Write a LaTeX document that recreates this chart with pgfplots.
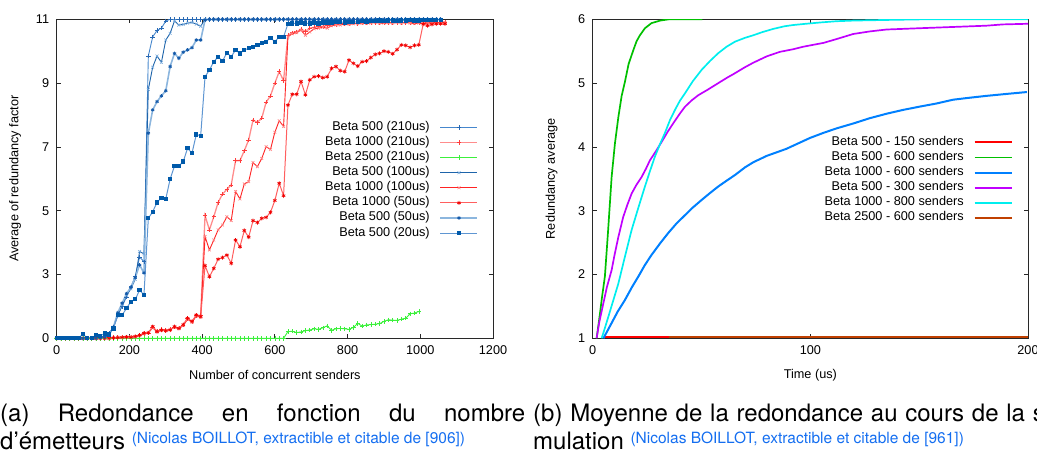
\documentclass[border=0pt]{standalone}
\usepackage{fontspec}
\setmainfont{Liberation Sans}
\newfontfamily\capfont{TeX Gyre Heros}
\usepackage{pgfplots}
\pgfplotsset{compat=1.18}
\newcommand\fs{\fontsize{12.7bp}{15bp}\selectfont}
\definecolor{bA}{RGB}{70,135,205}
\definecolor{bAm}{RGB}{40,105,180}
\definecolor{rA}{RGB}{255,140,140}
\definecolor{rAm}{RGB}{255,60,60}
\definecolor{gA}{RGB}{60,240,60}
\definecolor{bB}{RGB}{30,100,170}
\definecolor{bBm}{RGB}{120,170,220}
\definecolor{rB}{RGB}{255,35,35}
\definecolor{rBm}{RGB}{255,130,130}
\definecolor{rC}{RGB}{255,95,95}
\definecolor{rCm}{RGB}{240,0,0}
\definecolor{bC}{RGB}{140,182,222}
\definecolor{bCm}{RGB}{20,90,170}
\definecolor{bD}{RGB}{95,150,210}
\definecolor{bDm}{RGB}{0,90,170}
\definecolor{gpred}{RGB}{255,0,0}
\definecolor{gpgreen}{RGB}{0,192,0}
\definecolor{gpblue}{RGB}{0,128,255}
\definecolor{gppurple}{RGB}{192,0,255}
\definecolor{gpcyan}{RGB}{0,238,238}
\definecolor{gpbrown}{RGB}{192,64,0}
\definecolor{capblue}{RGB}{20,110,240}
\definecolor{axgray}{RGB}{40,40,40}
\pgfplotsset{
  gpstyle/.style={
    scale only axis, height=319bp,
    tick align=inside, major tick length=4bp,
    axis line style={line width=0.8bp, axgray},
    every tick/.style={line width=0.8bp, axgray},
    tick label style={font=\fs},
    label style={font=\fs},
    scaled ticks=false,
    /pgf/number format/assume math mode=true,
    /pgf/number format/set thousands separator={},
    legend cell align=right,
    legend plot pos=right,
    legend style={draw=none, fill=none, inner sep=0pt, outer sep=0pt, font=\fs,
      row sep=3.1bp, /tikz/column sep=10bp,
      nodes={inner sep=0pt, text height=9bp, text depth=3bp}},
    legend image code/.code={\draw[mark repeat=2,mark phase=2,##1] plot coordinates {(0bp,0bp) (18.5bp,0bp) (37bp,0bp)};},
    yticklabel style={xshift=-4bp},
    xticklabel style={yshift=-4bp},
  }
}
\begin{document}
\begin{tikzpicture}
\useasboundingbox (0bp,0bp) rectangle (1037bp,-453bp);
% ---------------- left plot ----------------
\begin{axis}[gpstyle,
  at={(56.7bp,-338.3bp)}, anchor=south west, width=436.3bp,
  xmin=0, xmax=1200, ymin=1, ymax=11,
  xtick={0,200,400,600,800,1000,1200},
  ytick={1,3,5,7,9,11}, yticklabels={0,3,5,7,9,11},
  xlabel={Number of concurrent senders},
  ylabel={Average of redundancy factor},
  xlabel style={at={(axis description cs:0.5,-0.115)}, anchor=center},
  ylabel style={at={(axis description cs:-0.0956,0.5)}, anchor=center, rotate=0},
  legend style={at={(0.9663,0.680)}, anchor=north east},
]
% Beta 500 (210us)
\addplot[color=bA, line width=0.9bp, mark=+, mark size=2.2bp, mark options={color=bAm, line width=0.6bp}] coordinates {
(0,1)(12,1)(24,1)(36,1)(48,1)(60,1)(72,1)(84,1)(96,1)(108,1)(120,1.02)(132,1.05)(144,1.15)(156,1.35)(168,1.75)(180,2.0)(192,2.3)(204,2.6)(216,2.95)(228,3.55)(240,3.4)(252,9.85)(264,10.45)(276,10.65)(288,10.72)(300,10.95)(312,11)(324,11)(336,11)(348,11)(360,11)(372,11)(384,11)(396,11)(408,11)
(420,11)(432,11)(444,11)(456,11)(468,11)(480,11)(492,11)(504,11)(516,11)(528,11)(540,11)(552,11)(564,11)(576,11)(588,11)(600,11)(612,11)(624,11)(636,11)(648,11)(660,11)(672,11)(684,11)(696,11)(708,11)(720,11)(732,11)(744,11)(756,11)(768,11)(780,11)(792,11)(804,11)(816,11)(828,11)(840,11)(852,11)(864,11)(876,11)(888,11)(900,11)(912,11)(924,11)(936,11)(948,11)(960,11)(972,11)(984,11)(996,11)(1008,11)(1020,11)(1032,11)(1044,11)(1056,11)
};
\addlegendentry{Beta 500 (210us)}
% Beta 1000 (210us)
\addplot[color=rA, line width=1.3bp, mark=+, mark size=2.2bp, mark options={color=rAm, line width=0.6bp}] coordinates {
(0,1)(12,1)(24,1)(36,1)(48,1)(60,1)(72,1)(84,1)(96,1)(108,1)(120,1)(132,1)(144,1.02)(156,1.02)(168,1.02)(180,1.03)(192,1.05)(204,1.04)(216,1.05)(228,1.1)(240,1.15)(252,1.16)(264,1.36)(276,1.22)(288,1.27)(300,1.25)(312,1.27)(324,1.36)(336,1.32)(348,1.42)(360,1.62)(372,1.52)(384,1.72)(396,1.72)
(408,4.85)(420,4.4)(432,4.81)(444,5.26)(456,5.52)(468,5.67)(480,5.81)(492,6.57)(504,6.57)(516,6.88)(528,7.22)(540,7.84)(552,7.77)(564,7.9)(576,8.4)(588,8.6)(600,9.0)(612,9.36)(624,9.08)
(636,10.5)(648,10.58)(660,10.61)(672,10.69)(684,10.62)(696,10.72)(708,10.75)(720,10.77)(732,10.78)(744,10.8)(756,10.82)(768,10.84)(780,10.85)(792,10.86)(804,10.87)(816,10.88)(828,10.87)(840,10.88)(852,10.9)(864,10.9)(876,10.9)(888,10.9)(900,10.89)(912,10.9)(924,10.9)(936,10.9)(948,10.9)(960,10.9)(972,10.9)(984,10.9)(996,10.9)(1008,10.88)(1020,10.9)(1032,10.9)(1044,10.9)(1056,10.9)(1068,10.92)
};
\addlegendentry{Beta 1000 (210us)}
% Beta 2500 (210us)
\addplot[color=gA, line width=0.9bp, mark=+, mark size=2.2bp, mark options={line width=0.6bp}] coordinates {
(0,1)(12,1)(24,1)(36,1)(48,1)(60,1)(72,1)(84,1)(96,1)(108,1)(120,1)(132,1)(144,1)(156,1)(168,1)(180,1)(192,1)(204,1)(216,1)(228,1)(240,1)(252,1)(264,1)(276,1)(288,1)(300,1)(312,1)(324,1)(336,1)(348,1)(360,1)(372,1)(384,1)(396,1)(408,1)(420,1)(432,1)(444,1)(456,1)(468,1)(480,1)(492,1)(504,1)(516,1)(528,1)(540,1)(552,1)(564,1)(576,1)(588,1)(600,1)(612,1)(624,1)
(636,1.21)(648,1.22)(660,1.18)(672,1.2)(684,1.24)(696,1.26)(708,1.3)(720,1.28)(732,1.33)(744,1.39)(756,1.25)(768,1.3)(780,1.31)(792,1.3)(804,1.28)(816,1.34)(828,1.47)(840,1.38)(852,1.42)(864,1.43)(876,1.44)(888,1.46)(900,1.53)(912,1.58)(924,1.57)(936,1.56)(948,1.6)(960,1.63)(972,1.77)(984,1.79)(996,1.84)
};
\addlegendentry{Beta 2500 (210us)}
% Beta 500 (100us)
\addplot[color=bB, line width=0.9bp, mark=x, mark size=2bp, mark options={color=bBm, line width=0.6bp}] coordinates {
(0,1)(12,1)(24,1)(36,1)(48,1)(60,1)(72,1)(84,1)(96,1)(108,1)(120,1.02)(132,1.05)(144,1.15)(156,1.35)(168,1.7)(180,2.05)(192,2.35)(204,2.55)(216,2.85)(228,3.72)(240,3.65)(252,8.8)(264,9.5)(276,9.85)(288,9.65)(300,10.35)(312,10.56)(324,10.95)(336,10.82)(348,10.84)(360,10.88)(372,10.9)(384,10.85)(396,10.78)(408,11)
(420,11)(432,11)(444,11)(456,11)(468,11)(480,11)(492,11)(504,11)(516,11)(528,11)(540,11)(552,11)(564,11)(576,11)(588,11)(600,11)(612,11)(624,11)(636,11)(648,11)(660,11)(672,11)(684,11)(696,11)(708,11)(720,11)(732,11)(744,11)(756,11)(768,11)(780,11)(792,11)(804,11)(816,11)(828,11)(840,11)(852,11)(864,11)(876,11)(888,11)(900,11)(912,11)(924,11)(936,11)(948,11)(960,11)(972,11)(984,11)(996,11)(1008,11)(1020,11)(1032,11)(1044,11)(1056,11)
};
\addlegendentry{Beta 500 (100us)}
% Beta 1000 (100us)
\addplot[color=rB, line width=0.9bp, mark=x, mark size=2bp, mark options={color=rBm, line width=0.6bp}] coordinates {
(0,1)(12,1)(24,1)(36,1)(48,1)(60,1)(72,1)(84,1)(96,1)(108,1)(120,1)(132,1)(144,1.01)(156,1.02)(168,1.03)(180,1.02)(192,1.04)(204,1.05)(216,1.04)(228,1.08)(240,1.14)(252,1.18)(264,1.33)(276,1.2)(288,1.25)(300,1.24)(312,1.28)(324,1.34)(336,1.3)(348,1.4)(360,1.6)(372,1.5)(384,1.7)(396,1.66)
(408,4.19)(420,3.77)(432,4.08)(444,4.4)(456,4.55)(468,4.81)(480,4.69)(492,5.6)(504,5.37)(516,5.84)(528,5.91)(540,6.51)(552,6.38)(564,6.64)(576,7.01)(588,6.92)(600,7.46)(612,7.82)(624,7.64)
(636,10.45)(648,10.55)(660,10.58)(672,10.66)(684,10.5)(696,10.6)(708,10.7)(720,10.72)(732,10.75)(744,10.72)(756,10.8)(768,10.82)(780,10.82)(792,10.85)(804,10.84)(816,10.86)(828,10.86)(840,10.87)(852,10.87)(864,10.88)(876,10.9)(888,10.88)(900,10.88)(912,10.89)(924,10.88)(936,10.9)(948,10.88)(960,10.9)(972,10.88)(984,10.87)(996,10.88)(1008,10.86)(1020,10.88)(1032,10.88)(1044,10.9)(1056,10.88)(1068,10.9)
};
\addlegendentry{Beta 1000 (100us)}
% Beta 1000 (50us)
\addplot[color=rC, line width=1bp, mark=asterisk, mark size=2bp, mark options={color=rCm, line width=0.7bp}] coordinates {
(0,1)(12,1)(24,1)(36,1)(48,1)(60,1)(72,1)(84,1)(96,1)(108,1)(120,1)(132,1)(144,1)(156,1.01)(168,1.02)(180,1.03)(192,1.04)(204,1.03)(216,1.06)(228,1.1)(240,1.16)(252,1.17)(264,1.37)(276,1.21)(288,1.26)(300,1.24)(312,1.26)(324,1.37)(336,1.31)(348,1.43)(360,1.63)(372,1.53)(384,1.73)(396,1.68)
(408,3.28)(420,2.93)(432,3.19)(444,3.48)(456,3.53)(468,3.61)(480,3.35)(492,4.08)(504,3.87)(516,4.38)(528,4.17)(540,4.69)(552,4.63)(564,4.76)(576,4.79)(588,4.95)(600,5.32)(612,5.86)(624,5.47)
(636,8.31)(648,8.65)(660,8.65)(672,9.05)(684,8.63)(696,9.1)(708,9.2)(720,9.22)(732,9.17)(744,9.2)(756,9.46)(768,9.52)(780,9.39)(792,9.36)(804,9.72)(816,9.62)(828,9.53)(840,9.67)(852,9.69)(864,9.8)(876,9.9)(888,9.93)(900,10.0)(912,9.98)(924,9.92)(936,10.05)(948,10.2)(960,10.18)(972,10.12)(984,10.18)(996,10.2)
(1008,10.85)(1020,10.8)(1032,10.84)(1044,10.86)(1056,10.86)(1068,10.86)
};
\addlegendentry{Beta 1000 (50us)}
% Beta 500 (50us)
\addplot[color=bC, line width=1.6bp, mark=asterisk, mark size=1.8bp, mark options={color=bCm, line width=0.8bp}] coordinates {
(0,1)(12,1)(24,1)(36,1)(48,1)(60,1)(72,1)(84,1)(96,1)(108,1)(120,1.02)(132,1.04)(144,1.12)(156,1.35)(168,1.8)(180,2.1)(192,2.4)(204,2.6)(216,2.9)(228,3.3)(240,3.05)(252,7.43)(264,8.16)(276,8.42)(288,8.6)(300,8.76)(312,9.52)(324,9.93)(336,9.78)(348,9.97)(360,10.04)(372,10.11)(384,10.35)(396,10.35)(408,10.98)
(420,11)(432,11)(444,11)(456,11)(468,11)(480,11)(492,11)(504,11)(516,11)(528,11)(540,11)(552,11)(564,11)(576,11)(588,11)(600,11)(612,11)(624,11)(636,11)(648,11)(660,11)(672,11)(684,11)(696,11)(708,11)(720,11)(732,11)(744,11)(756,11)(768,11)(780,11)(792,11)(804,11)(816,11)(828,11)(840,11)(852,11)(864,11)(876,11)(888,11)(900,11)(912,11)(924,11)(936,11)(948,11)(960,11)(972,11)(984,11)(996,11)(1008,11)(1020,11)(1032,11)(1044,11)(1056,11)
};
\addlegendentry{Beta 500 (50us)}
% Beta 500 (20us)
\addplot[color=bD, line width=1bp, mark=square*, mark size=1.6bp, mark options={fill=bDm, draw=bDm}] coordinates {
(0,1)(12,1)(24,1)(36,1)(48,1)(60,1)(72,1.13)(84,1)(96,1)(108,1.1)(120,1.08)(132,1.15)(144,1.12)(156,1.31)(168,1.73)(180,1.73)(192,1.94)(204,2.15)(216,2.22)(228,2.51)(240,2.36)
(252,4.76)(264,4.97)(276,5.26)(288,5.41)(300,5.37)(312,5.99)(324,6.4)(336,6.4)(348,6.54)(360,6.96)(372,6.8)(384,7.39)(396,7.35)
(408,9.2)(420,9.41)(432,9.67)(444,9.83)(456,9.69)(468,9.95)(480,9.83)(492,10.04)(504,9.93)(516,10.04)(528,10.09)(540,10.14)(552,10.2)(564,10.25)(576,10.3)(588,10.42)(600,10.3)(612,10.45)(624,10.45)
(636,10.86)(648,10.87)(660,10.87)(672,10.9)(684,10.87)(696,10.87)(708,10.9)(720,10.87)(732,10.9)(744,10.9)(756,10.9)(768,10.92)(780,10.92)(792,10.9)(804,10.92)(816,10.92)(828,10.92)(840,10.95)(852,10.93)(864,10.95)(876,10.95)(888,10.96)(900,10.95)(912,10.96)(924,10.96)(936,10.95)(948,10.96)(960,10.96)(972,10.97)(984,10.96)(996,10.96)(1008,10.97)(1020,10.97)(1032,10.97)(1044,10.98)(1056,10.98)
};
\addlegendentry{Beta 500 (20us)}
\end{axis}
% ---------------- right plot ----------------
\begin{axis}[gpstyle,
  at={(592.7bp,-338.3bp)}, anchor=south west, width=435.3bp,
  xmin=0, xmax=200, ymin=1, ymax=6,
  xtick={0,100,200}, ytick={1,2,3,4,5,6},
  xlabel={Time (us)},
  ylabel={Redundancy average},
  xlabel style={at={(axis description cs:0.5,-0.115)}, anchor=center},
  ylabel style={at={(axis description cs:-0.0942,0.5)}, anchor=center, rotate=0},
  legend style={at={(0.9649,0.633)}, anchor=north east},
]
\addplot[color=gpred, line width=2bp] coordinates {(5.6,1.025)(35,1.025)};
\addlegendentry{Beta 500 - 150 senders}
\addplot[color=gpgreen, line width=1.7bp] coordinates {
(1.8,1)(3,1.3)(4.3,1.65)(5.6,1.97)(7,2.65)(8.7,3.53)(10.2,4.05)(11.8,4.47)(13.3,4.8)(14.8,5.02)(16.5,5.3)(18.7,5.52)(20.2,5.66)(21.7,5.75)(24,5.86)(27,5.94)(31,5.98)(35,6)(50.4,6)};
\addlegendentry{Beta 500 - 600 senders}
\addplot[color=gpblue, line width=2bp] coordinates {
(4.9,1)(6.5,1.1)(8.7,1.24)(11.5,1.42)(14.8,1.6)(18,1.8)(21,1.97)(24,2.15)(27.1,2.31)(31,2.49)(34.7,2.65)(38.5,2.8)(42.4,2.93)(46,3.05)(50.1,3.17)(54,3.28)(57.7,3.38)(61.5,3.47)(65.4,3.56)(70,3.68)(73.8,3.76)(80,3.86)(89,3.97)(99.8,4.14)(106,4.22)(112,4.29)(120,4.37)(127.3,4.45)(135,4.52)(142.6,4.58)(150,4.63)(157.9,4.68)(165.6,4.74)(173,4.77)(180.9,4.8)(190,4.83)(199.5,4.86)};
\addlegendentry{Beta 1000 - 600 senders}
\addplot[color=gppurple, line width=1.7bp] coordinates {
(1.8,1)(3,1.25)(4.9,1.55)(6.5,1.8)(8.7,2.07)(10,2.3)(11.8,2.59)(14,2.9)(16,3.1)(17.9,3.27)(20,3.4)(22.5,3.53)(24.5,3.66)(26.3,3.79)(29,3.93)(31.7,4.08)(34.5,4.24)(37,4.37)(40,4.52)(42.4,4.63)(45.5,4.73)(48.5,4.81)(53,4.9)(57.7,5.0)(61.5,5.08)(64.6,5.14)(70,5.25)(73.8,5.32)(80,5.42)(86,5.49)(92,5.53)(96.7,5.57)(101.3,5.6)(106,5.63)(112,5.69)(119.7,5.77)(127.3,5.81)(135,5.84)(150,5.86)(165.6,5.88)(180.9,5.9)(188.5,5.92)(200,5.93)};
\addlegendentry{Beta 500 - 300 senders}
\addplot[color=gpcyan, line width=1.7bp] coordinates {
(4.1,1)(5.5,1.15)(7.2,1.34)(9.5,1.6)(11.8,1.86)(14.8,2.28)(17.9,2.7)(21,3.05)(24,3.38)(26.3,3.62)(28.6,3.85)(31,4.05)(33.2,4.22)(35.5,4.42)(37.8,4.58)(40,4.72)(42.4,4.84)(46,5.03)(50.1,5.21)(54,5.35)(57.7,5.47)(61.5,5.57)(65.4,5.65)(70,5.71)(73.8,5.75)(78,5.8)(83,5.85)(88,5.89)(92,5.91)(98,5.93)(104.4,5.95)(112,5.97)(119.7,5.98)(135,5.99)(152.6,6.0)(200,6.0)};
\addlegendentry{Beta 1000 - 800 senders}
\addplot[color=gpbrown, line width=1.7bp] coordinates {(35,1.025)(200,1.025)};
\addlegendentry{Beta 2500 - 600 senders}
\end{axis}
% ---------------- captions ----------------
\node[anchor=base west, inner sep=0pt] at (0bp,-421.5bp)
  {\capfont\fontsize{24bp}{28bp}\selectfont\makebox[525bp][s]{(a) Redondance en fonction du nombre}};
\node[anchor=base west, inner sep=0pt] at (0bp,-449.5bp)
  {\capfont\fontsize{24bp}{28bp}\selectfont d’émetteurs \raisebox{6bp}{\fontsize{15.5bp}{18bp}\selectfont\color{capblue}(Nicolas BOILLOT, extractible et citable de [906])}};
\node[anchor=base west, inner sep=0pt] at (533bp,-421.5bp)
  {\capfont\fontsize{24bp}{28bp}\selectfont\makebox[525bp][s]{(b) Moyenne de la redondance au cours de la si-}};
\node[anchor=base west, inner sep=0pt] at (533bp,-449.5bp)
  {\capfont\fontsize{24bp}{28bp}\selectfont mulation \raisebox{6bp}{\fontsize{15.5bp}{18bp}\selectfont\color{capblue}(Nicolas BOILLOT, extractible et citable de [961])}};
\end{tikzpicture}
\end{document}
